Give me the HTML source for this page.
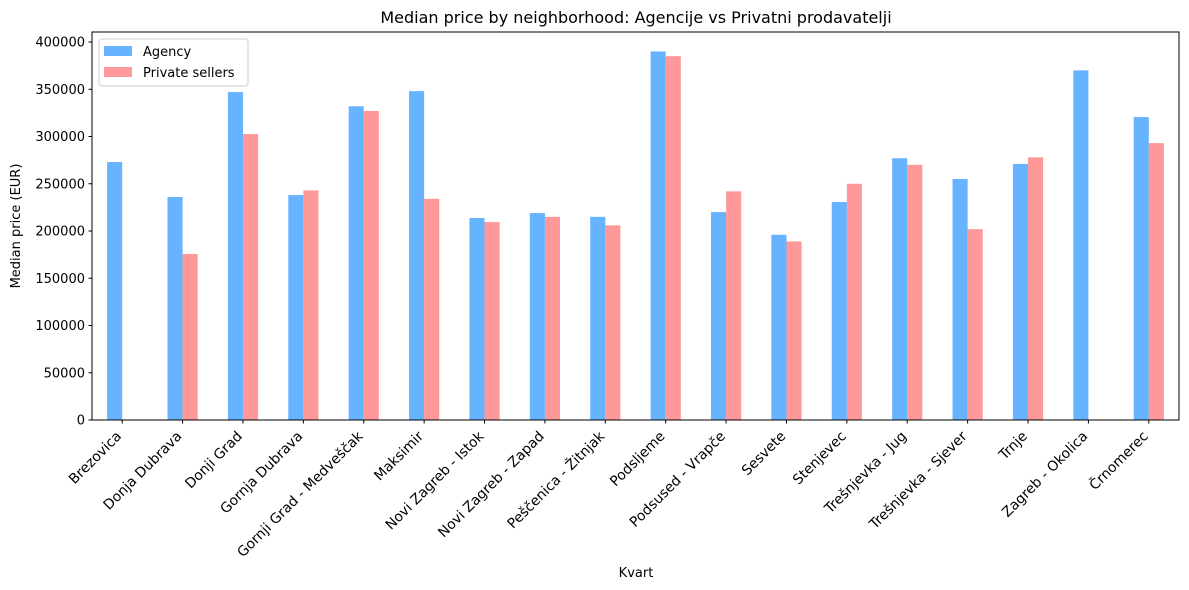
<!DOCTYPE html>
<html><head><meta charset="utf-8"><style>
html,body{margin:0;padding:0;background:#fff;}
svg{display:block;font-family:"DejaVu Sans","Liberation Sans",sans-serif;}
</style></head><body>
<svg id="chart" width="1189" height="590" viewBox="0 0 1189 590">
<rect width="1189" height="590" fill="#fff"/>
<text x="636" y="23" font-size="16" text-anchor="middle" fill="#000">Median price by neighborhood: Agencije vs Privatni prodavatelji</text>
<g id="bars"></g>
<g id="yaxis"></g>
<g id="xaxis"></g>
<rect x="92" y="32" width="1087" height="388" fill="none" stroke="#000" stroke-width="1"/>
<text transform="translate(20,226) rotate(-90)" font-size="13" text-anchor="middle">Median price (EUR)</text>
<text x="636" y="577" font-size="13" text-anchor="middle">Kvart</text>
<g>
<rect x="99" y="39" width="149" height="47" rx="3" fill="#fff" fill-opacity="0.8" stroke="#ccc"/>
<rect x="104" y="46" width="28" height="10" fill="#66b3ff"/>
<text x="143" y="56" font-size="13">Agency</text>
<rect x="104" y="67" width="28" height="10" fill="#ff9999"/>
<text x="143" y="77" font-size="13">Private sellers</text>
</g>
</svg>
<script>
const categories = ["Brezovica","Donja Dubrava","Donji Grad","Gornja Dubrava","Gornji Grad - Medveščak","Maksimir","Novi Zagreb - Istok","Novi Zagreb - Zapad","Peščenica - Žitnjak","Podsljeme","Podsused - Vrapče","Sesvete","Stenjevec","Trešnjevka - Jug","Trešnjevka - Sjever","Trnje","Zagreb - Okolica","Črnomerec"];
const agency = [273000,236000,347000,238000,332000,348000,213800,219000,215000,390000,220000,196000,230700,277000,255000,271000,370000,320600];
const privateSellers = [null,175700,302600,243000,327000,234000,209500,215000,206000,385000,242000,189000,250000,270000,202000,278000,null,293000];
const yTicks = [0,50000,100000,150000,200000,250000,300000,350000,400000];

const NS = "http://www.w3.org/2000/svg";
const L = 92, R = 1179, T = 32, B = 420, YMAX = 410600;
const step = (R - L) / categories.length;
const barW = step * 0.25;
function xScale(i){ return L + step * (i + 0.5); }
function yScale(v){ return B - (v / YMAX) * (B - T); }
function mk(tag, attrs, parent){
  const e = document.createElementNS(NS, tag);
  for (const k in attrs) e.setAttribute(k, attrs[k]);
  parent.appendChild(e);
  return e;
}
const bars = document.getElementById('bars');
const yaxis = document.getElementById('yaxis');
const xaxis = document.getElementById('xaxis');

categories.forEach((c, i) => {
  const cx = xScale(i);
  if (agency[i] != null) {
    const r = mk('rect', {x: cx - barW, y: yScale(agency[i]), width: barW, height: B - yScale(agency[i]), fill: '#66b3ff'}, bars);
    
    
  }
  if (privateSellers[i] != null) {
    const r = mk('rect', {x: cx, y: yScale(privateSellers[i]), width: barW, height: B - yScale(privateSellers[i]), fill: '#ff9999'}, bars);
    
    
  }
  const t = mk('line', {x1: cx, x2: cx, y1: B, y2: B + 3.5, stroke: '#000'}, xaxis);
  
  
  const lb = mk('text', {x: 0, y: 0, 'font-size': 13.9, 'text-anchor': 'end', transform: `translate(${cx},${B + 17}) rotate(-45)`}, xaxis);
  lb.textContent = c;
  
  
});

yTicks.forEach(v => {
  const y = yScale(v);
  const t = mk('line', {x1: L - 3.5, x2: L, y1: y, y2: y, stroke: '#000'}, yaxis);
  
  
  const lb = mk('text', {x: L - 7, y: y + 4.5, 'font-size': 13, 'text-anchor': 'end'}, yaxis);
  lb.textContent = String(v);
  
  
});
</script>
</body></html>
